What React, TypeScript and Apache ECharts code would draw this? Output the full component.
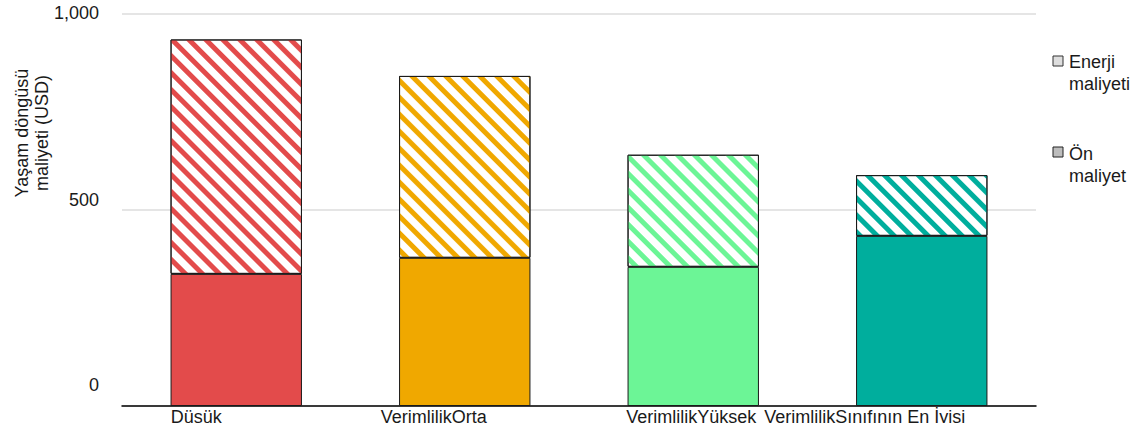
import React, { useEffect, useRef } from "react";
import * as echarts from "echarts";

// Life-cycle cost per efficiency class (USD)
const categories = ["Düşük Verimlilik", "Orta Verimlilik", "Yüksek Verimlilik", "Sınıfının En İyisi"];
const xTickLabels = ["Düşük", "VerimlilikOrta", "VerimlilikYüksek", "VerimlilikSınıfının En İyisi"];
const upfrontCost = [337, 378, 355, 434];
const energyCost = [598, 464, 286, 155];
const yTicks = [0, 500, 1000];
const seriesNames = ["Ön maliyet", "Enerji maliyeti"];

const barColors = ["#e34b4b", "#f0a800", "#6cf596", "#00ae9d"];
const FONT = "'Liberation Sans', Arial, sans-serif";
const TEXT_COLOR = "#1a1a1a";

// horizontal nudge of each category label (px, relative to the tick centre)
const xLabelShift = [-40, -31, -2, -57];
// upward nudge of each value label (px)
const yLabelShift = [21, 10, 1];

function stripes(color: string) {
  return {
    symbol: "rect",
    symbolSize: 1,
    dashArrayX: [1, 0],
    dashArrayY: [5, 6.5],
    rotation: Math.PI / 4,
    color,
    backgroundColor: "#ffffff",
  };
}

export default function App() {
  const ref = useRef<HTMLDivElement>(null);

  useEffect(() => {
    if (!ref.current) return;
    const chart = echarts.init(ref.current, null, { renderer: "svg" });

    const xRich: Record<string, any> = {};
    xLabelShift.forEach((s, i) => {
      xRich["l" + i] = {
        fontSize: 18,
        fontFamily: FONT,
        color: TEXT_COLOR,
        lineHeight: 20,
        padding: [0, s < 0 ? -2 * s : 0, 0, s > 0 ? 2 * s : 0],
      };
    });
    const yRich: Record<string, any> = {};
    yLabelShift.forEach((s, i) => {
      yRich["t" + i] = {
        fontSize: 18,
        fontFamily: FONT,
        color: TEXT_COLOR,
        lineHeight: 20,
        padding: [0, 0, 2 * s, 0],
      };
    });

    chart.setOption({
      animation: false,
      backgroundColor: "#ffffff",
      grid: {
        left: 122,
        right: 103,
        top: 14,
        bottom: 17,
        containLabel: false,
        outerBoundsMode: "none",
      },
      xAxis: {
        type: "category",
        data: categories,
        axisLine: { show: true, lineStyle: { color: "#000", width: 1.5 } },
        axisTick: { show: false },
        axisLabel: {
          interval: 0,
          margin: 1,
          verticalAlign: "top",
          hideOverlap: false,
          formatter: (_v: string, i: number) => `{l${i}|${xTickLabels[i]}}`,
          rich: xRich,
        },
      },
      yAxis: {
        type: "value",
        min: 0,
        max: 1000,
        interval: 500,
        axisLine: { show: false },
        axisTick: { show: false },
        splitLine: { lineStyle: { color: "#dcdcdc", width: 1.5 } },
        axisLabel: {
          margin: 23,
          formatter: (v: number) => {
            const i = yTicks.indexOf(v);
            return `{t${i}|${v.toLocaleString("en-US")}}`;
          },
          rich: yRich,
        },
      },
      series: [
        {
          name: seriesNames[0],
          type: "bar",
          stack: "total",
          barWidth: "57.5%",
          data: upfrontCost.map((v, i) => ({
            value: v,
            itemStyle: { color: barColors[i], borderColor: "#1a1a1a", borderWidth: 1 },
          })),
        },
        {
          name: seriesNames[1],
          type: "bar",
          stack: "total",
          barWidth: "57.5%",
          data: energyCost.map((v, i) => ({
            value: v,
            itemStyle: {
              color: "#ffffff",
              borderColor: "#1a1a1a",
              borderWidth: 1,
              decal: stripes(barColors[i]),
            },
          })),
        },
      ],
      graphic: [
        {
          type: "text",
          x: 32,
          y: 133,
          rotation: Math.PI / 2,
          style: {
            text: "Yaşam döngüsü\nmaliyeti (USD)",
            font: `18px ${FONT}`,
            fill: TEXT_COLOR,
            align: "center",
            verticalAlign: "middle",
            lineHeight: 20,
          },
        },
        {
          type: "rect",
          shape: { x: 1053, y: 56, width: 10, height: 10 },
          style: { fill: "#dedede", stroke: "#333", lineWidth: 1 },
        },
        {
          type: "text",
          x: 1069,
          y: 51,
          style: {
            text: "Enerji\nmaliyeti",
            font: `18px ${FONT}`,
            fill: TEXT_COLOR,
            lineHeight: 22,
            verticalAlign: "top",
          },
        },
        {
          type: "rect",
          shape: { x: 1053, y: 147, width: 10, height: 10 },
          style: { fill: "#bdbdbd", stroke: "#222", lineWidth: 1 },
        },
        {
          type: "text",
          x: 1069,
          y: 143,
          style: {
            text: "Ön\nmaliyet",
            font: `18px ${FONT}`,
            fill: TEXT_COLOR,
            lineHeight: 22,
            verticalAlign: "top",
          },
        },
      ],
    });

    return () => chart.dispose();
  }, []);

  return (
    <div
      ref={ref}
      style={{ position: "absolute", left: 0, top: 0, width: 1139, height: 423 }}
    />
  );
}
